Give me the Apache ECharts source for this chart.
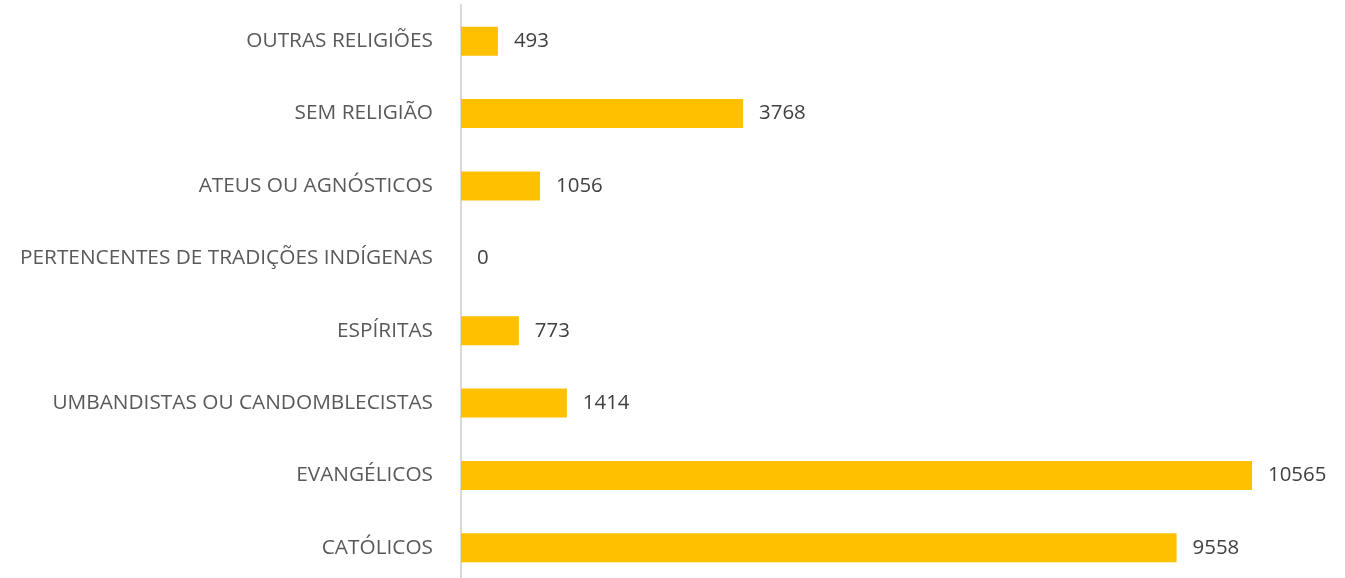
<!DOCTYPE html>
<html>
<head>
<meta charset="utf-8">
<script src="https://cdn.jsdelivr.net/npm/echarts@6/dist/echarts.min.js"></script>
<style>
  html, body { margin: 0; padding: 0; background: #fff; }
  #chart { width: 1345px; height: 578px; }
</style>
</head>
<body>
<div id="chart"></div>
<script>
var categories = ['CATÓLICOS', 'EVANGÉLICOS', 'UMBANDISTAS OU CANDOMBLECISTAS', 'ESPÍRITAS',
  'PERTENCENTES DE TRADIÇÕES INDÍGENAS', 'ATEUS OU AGNÓSTICOS', 'SEM RELIGIÃO', 'OUTRAS RELIGIÕES'];
var values = [9558, 10565, 1414, 773, 0, 1056, 3768, 493];

var myChart = echarts.init(document.getElementById('chart'));
var option = {
  animation: false,
  grid: { left: 461, top: 5, width: 791, height: 579, outerBoundsMode: 'none' },
  xAxis: {
    type: 'value',
    min: 0,
    max: 10565,
    show: false
  },
  yAxis: {
    type: 'category',
    data: categories,
    axisLine: { lineStyle: { color: '#d9d9d9', width: 2 } },
    axisTick: { show: false },
    axisLabel: {
      color: '#595959',
      fontSize: 20.8,
      fontFamily: 'Open Sans',
      margin: 28
    }
  },
  series: [{
    type: 'bar',
    data: values,
    barWidth: 29,
    itemStyle: { color: '#FFC000' },
    label: {
      show: true,
      position: 'right',
      distance: 16,
      color: '#404040',
      fontSize: 20.4,
      fontFamily: 'Open Sans'
    }
  }]
};
myChart.setOption(option);
</script>
</body>
</html>
